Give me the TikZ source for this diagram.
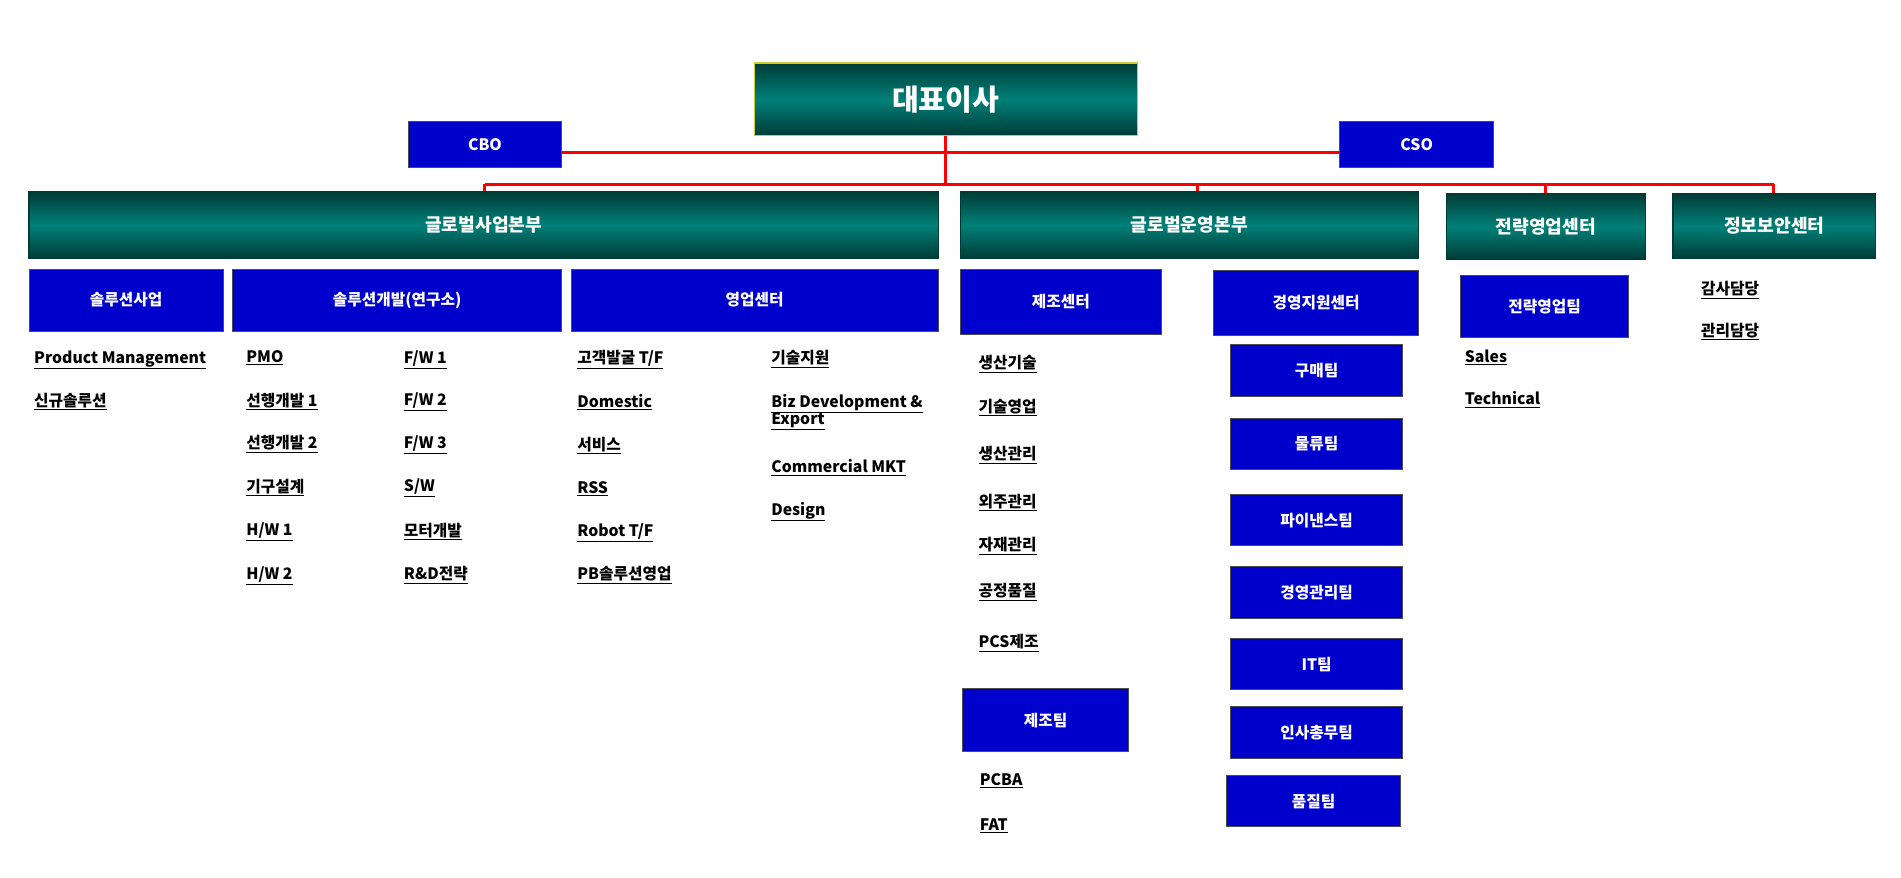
\documentclass[tikz,border=0pt]{standalone}
\usepackage{fontspec}
\setmainfont{Noto Sans CJK KR}
\definecolor{tealM}{RGB}{0,128,120}
\definecolor{tealD}{RGB}{0,60,55}
\definecolor{bl}{RGB}{0,0,204}
\tikzset{
 tealbox/.style={draw=tealD, line width=1pt, top color=tealD, bottom color=tealD, middle color=tealM, text=white, font=\bfseries\fontsize{15}{17}\selectfont, inner sep=0pt},
 bluebox/.style={draw=black!70, line width=0.8pt, fill=bl, text=white, font=\bfseries\fontsize{13}{15}\selectfont, inner sep=0pt},
 item/.style={anchor=north west, font=\bfseries\fontsize{13}{15}\selectfont, inner sep=0pt, align=left},
 conn/.style={draw=red, line width=2.5pt}
}
\newcommand{\bx}[7]{\node[#7, minimum width={#4-#2}, minimum height={#5-#3}] (#1) at ({(#2+#4)/2},{(#3+#5)/2}) {#6};}
\newcommand{\itm}[4]{\node[item] (#1) at (#2,#3-8) {\underline{#4}};}
\begin{document}
\begin{tikzpicture}[x=1pt,y=-1pt]
\useasboundingbox (0,0) rectangle (1568,723.4);
\coordinate (barL) at (400,152);
\coordinate (barR) at (1463,152);
\coordinate (bar2) at (988,152);
\coordinate (bar3) at (1275,152);
\bx{ceo}{622}{52}{938}{112}{\fontsize{24}{28}\selectfont 대표이사}{tealbox,draw=yellow!80!black}
\bx{cbo}{337}{100}{463}{138}{CBO}{bluebox}
\bx{cso}{1105}{100}{1232}{138}{CSO}{bluebox}
\bx{g1}{24}{158}{774}{213}{글로벌사업본부}{tealbox}
\bx{g2}{792}{158}{1170}{213}{글로벌운영본부}{tealbox}
\bx{g3}{1193}{160}{1357}{214}{전략영업센터}{tealbox}
\bx{g4}{1380}{160}{1547}{213}{정보보안센터}{tealbox}
\coordinate (h1) at (463,126);
\coordinate (h2) at (1105,126);
\draw[conn] (h1) -- (h2);
\draw[conn] (ceo.south) -- (ceo.south |- barL);
\draw[conn] (barL) -- (barR);
\draw[conn] (barL) -- (g1.north -| barL);
\draw[conn] (bar2) -- (g2.north -| bar2);
\draw[conn] (bar3) -- (g3.north -| bar3);
\draw[conn] (barR) -- (g4.north -| barR);
\bx{b1}{24}{222}{184}{273}{솔루션사업}{bluebox}
\bx{b2}{192}{222}{463}{273}{솔루션개발(연구소)}{bluebox}
\bx{b3}{471}{222}{774}{273}{영업센터}{bluebox}
\bx{b4}{792}{222}{958}{276}{제조센터}{bluebox}
\bx{b5}{1001}{223}{1170}{277}{경영지원센터}{bluebox}
\bx{b6}{1205}{227}{1343}{278}{전략영업팀}{bluebox}
\itm{a1}{1403}{240}{감사담당}
\itm{a2}{1403}{274}{관리담당}
\itm{p1}{28}{297}{Product Management}
\itm{p2}{28}{332}{신규솔루션}
\itm{q1}{203}{297}{PMO}
\itm{q2}{203}{332}{선행개발 1}
\itm{q3}{203}{367}{선행개발 2}
\itm{q4}{203}{403}{기구설계}
\itm{q5}{203}{439}{H/W 1}
\itm{q6}{203}{475}{H/W 2}
\itm{r1}{333}{297}{F/W 1}
\itm{r2}{333}{332}{F/W 2}
\itm{r3}{333}{367}{F/W 3}
\itm{r4}{333}{403}{S/W}
\itm{r5}{333}{439}{모터개발}
\itm{r6}{333}{475}{R\&D전략}
\itm{s1}{476}{297}{고객발굴 T/F}
\itm{s2}{476}{333}{Domestic}
\itm{s3}{476}{368}{서비스}
\itm{s4}{476}{405}{RSS}
\itm{s5}{476}{440}{Robot T/F}
\itm{s6}{476}{475}{PB솔루션영업}
\itm{t1}{636}{297}{기술지원}
\node[item] (t2) at (636,325) {\underline{Biz Development \&}\\[-1pt]\underline{Export}};
\itm{t3}{636}{387}{Commercial MKT}
\itm{t4}{636}{422}{Design}
\itm{u1}{807}{301}{생산기술}
\itm{u2}{807}{337}{기술영업}
\itm{u3}{807}{376}{생산관리}
\itm{u4}{807}{415}{외주관리}
\itm{u5}{807}{451}{자재관리}
\itm{u6}{807}{489}{공정품질}
\itm{u7}{807}{531}{PCS제조}
\bx{mt}{794}{568}{931}{620}{제조팀}{bluebox}
\itm{v1}{808}{646}{PCBA}
\itm{v2}{808}{683}{FAT}
\bx{w1}{1015}{284}{1157}{327}{구매팀}{bluebox}
\bx{w2}{1015}{345}{1157}{387}{물류팀}{bluebox}
\bx{w3}{1015}{408}{1157}{450}{파이낸스팀}{bluebox}
\bx{w4}{1015}{467}{1157}{510}{경영관리팀}{bluebox}
\bx{w5}{1015}{527}{1157}{569}{IT팀}{bluebox}
\bx{w6}{1015}{583}{1157}{626}{인사총무팀}{bluebox}
\bx{w7}{1012}{640}{1155}{682}{품질팀}{bluebox}
\itm{x1}{1208}{296}{Sales}
\itm{x2}{1208}{331}{Technical}
\end{tikzpicture}
\end{document}
